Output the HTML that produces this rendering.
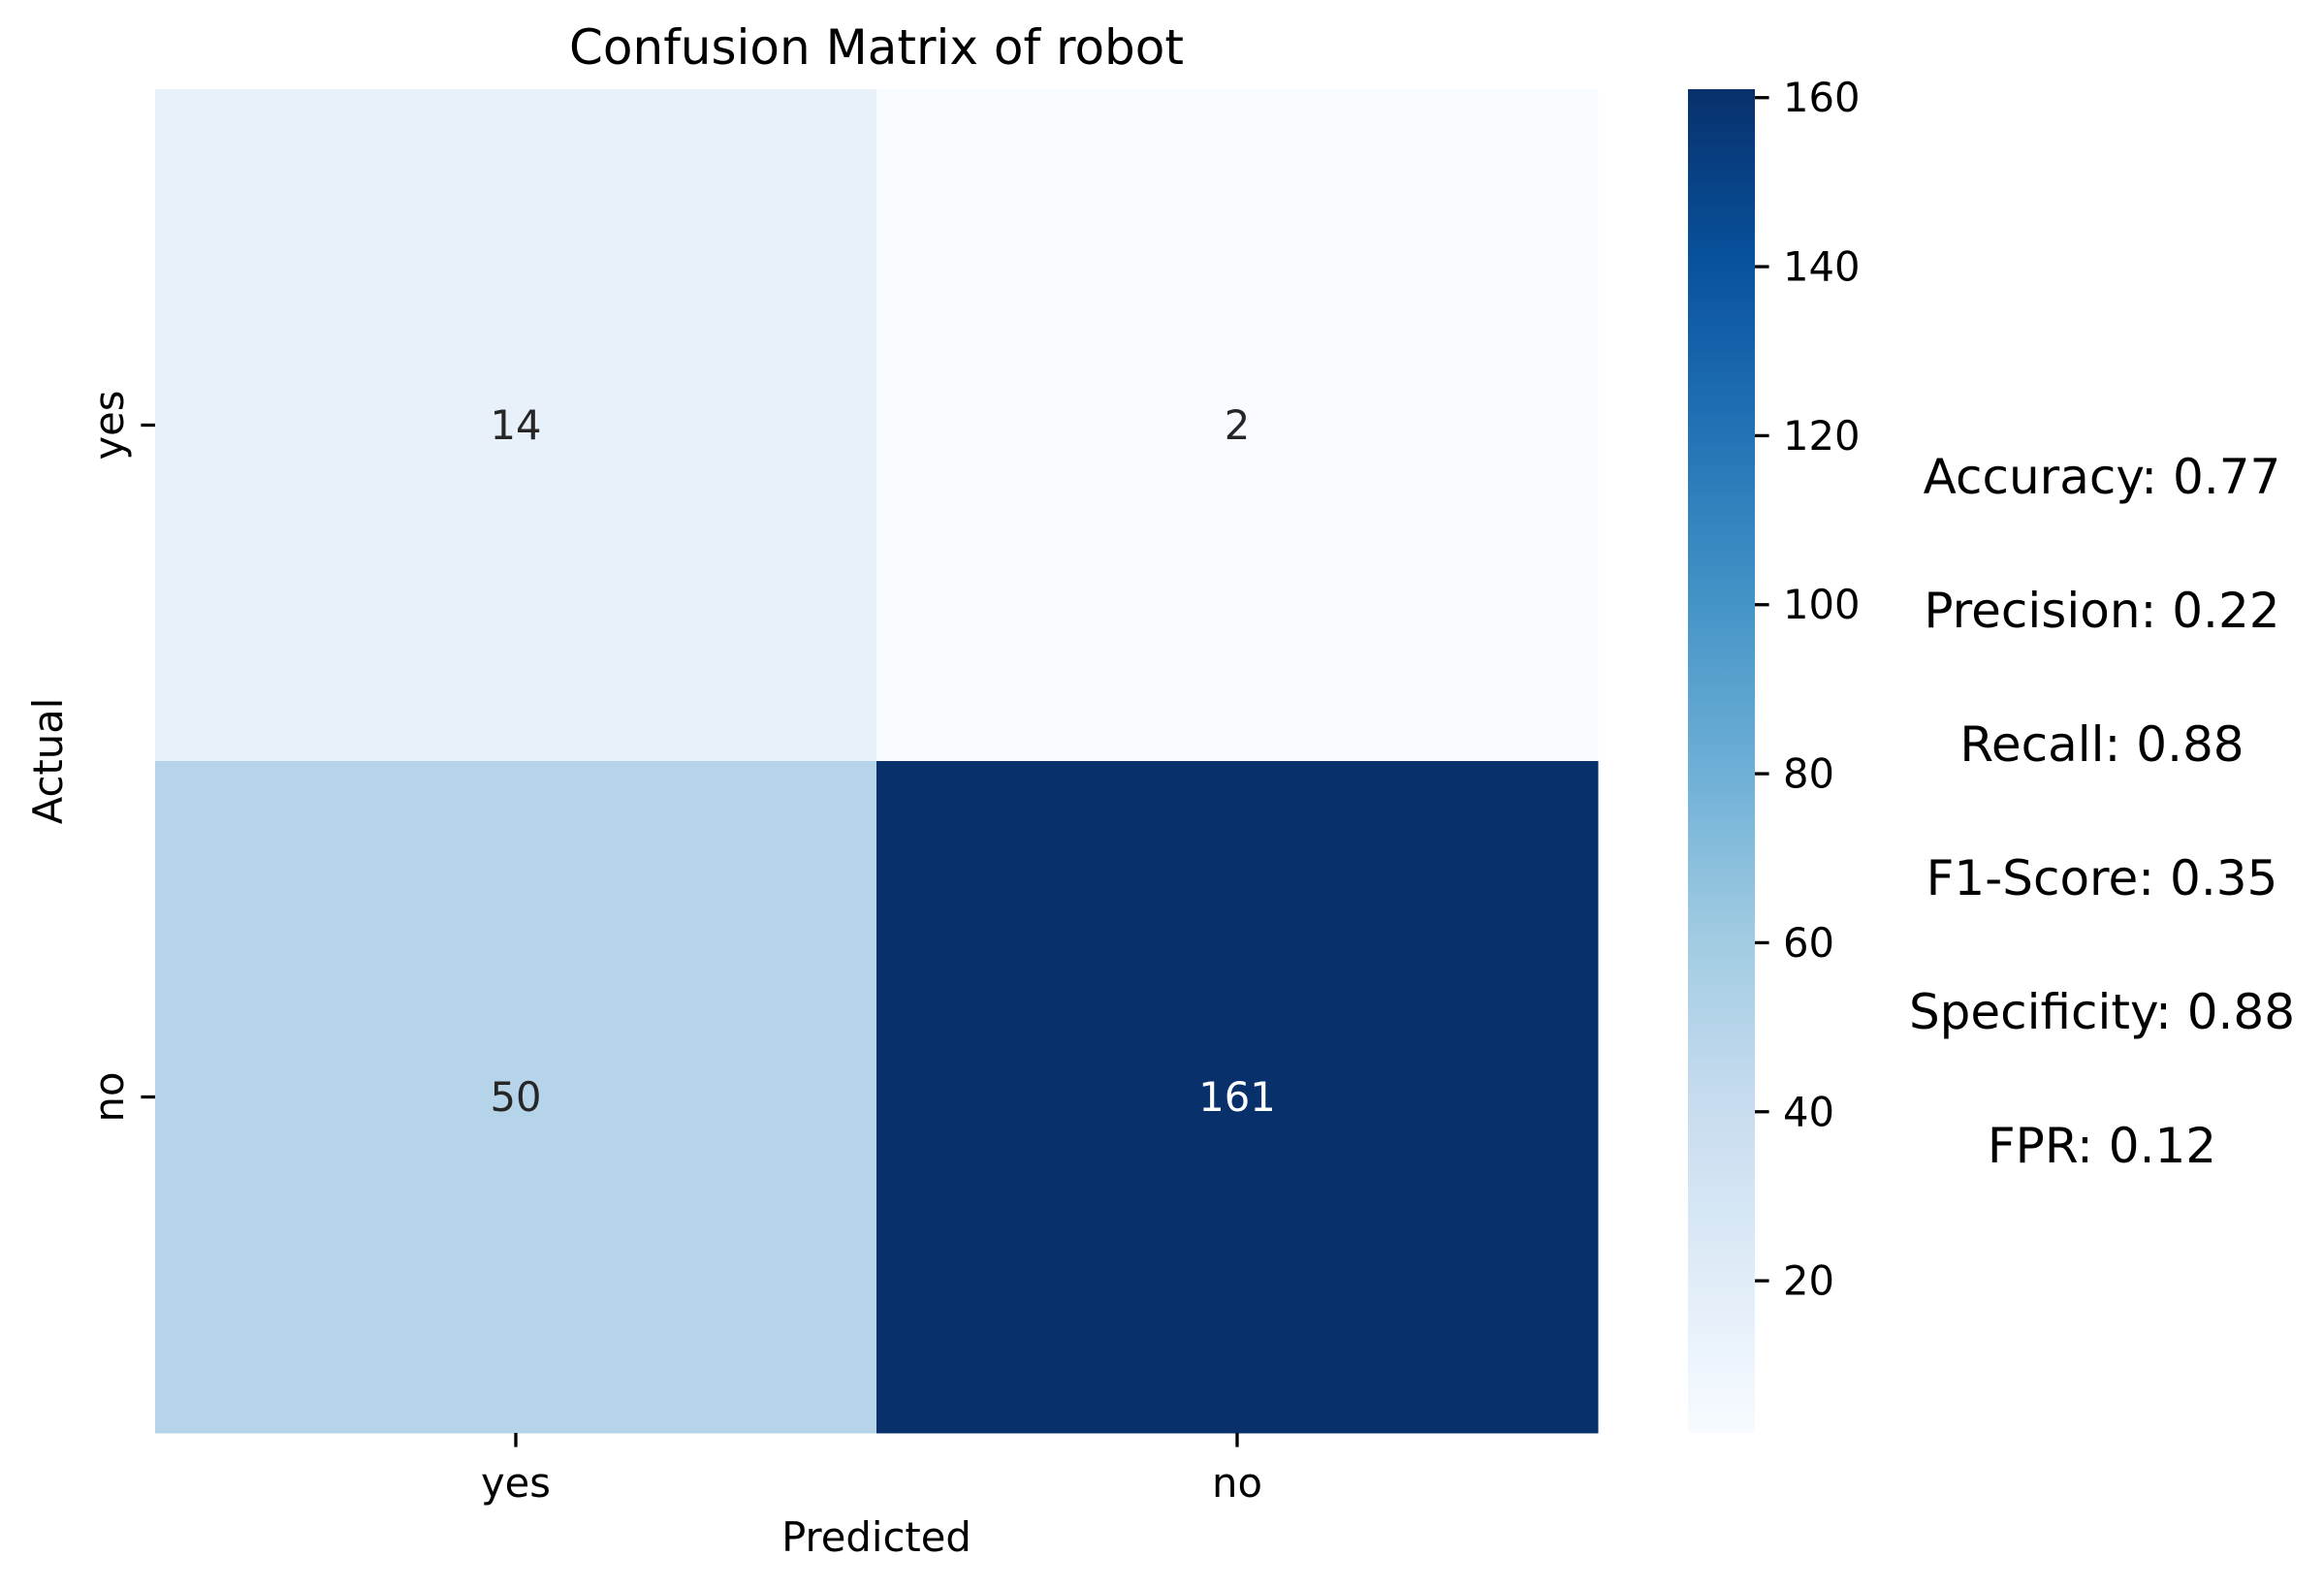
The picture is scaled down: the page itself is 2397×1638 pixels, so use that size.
<!DOCTYPE html>
<html><head><meta charset="utf-8"><style>
html,body{margin:0;padding:0;background:#fff;}
svg{display:block;font-family:"DejaVu Sans","Liberation Sans",sans-serif;}
</style></head><body>
<svg id="chart" width="2397" height="1638" viewBox="0 0 2397 1638" xmlns="http://www.w3.org/2000/svg">
<defs><linearGradient id="cbgrad" x1="0" y1="1" x2="0" y2="0"></linearGradient></defs>
<text x="904" y="66" font-size="50" text-anchor="middle" fill="#000">Confusion Matrix of robot</text>
<g id="cells"></g>
<g id="axes"></g>
<text x="904" y="1600" font-size="41.7" text-anchor="middle" fill="#000">Predicted</text>
<text transform="translate(64,785) rotate(-90)" font-size="41.7" text-anchor="middle" fill="#000">Actual</text>
<rect x="1741" y="92" width="69" height="1386" fill="url(#cbgrad)"/>
<g id="cbticks"></g>
<g id="metrics"></g>
</svg>
<script>
const rowLabels = ["yes","no"];
const colLabels = ["yes","no"];
const matrix = [[14,2],[50,161]];
const cbTicks = [20,40,60,80,100,120,140,160];
const metricLines = ["Accuracy: 0.77","Precision: 0.22","Recall: 0.88","F1-Score: 0.35","Specificity: 0.88","FPR: 0.12"];

const NS="http://www.w3.org/2000/svg";
const L=160,R=1648,T=92,B=1478;
const CBT=92,CBB=1478,CBX=1810;
const flat=matrix.flat();
const vmin=Math.min(...flat), vmax=Math.max(...flat);
const stops=["#f7fbff","#deebf7","#c6dbef","#9ecae1","#6baed6","#4292c6","#2171b5","#08519c","#08306b"];
function hex(h){return [1,3,5].map(i=>parseInt(h.substr(i,2),16));}
function blues(t){t=Math.max(0,Math.min(1,t));const p=t*8,i=Math.min(7,Math.floor(p)),f=p-i;
 const a=hex(stops[i]),b=hex(stops[i+1]);return "rgb("+a.map((v,k)=>Math.round(v+(b[k]-v)*f)).join(",")+")";}
function mk(tag,attrs,parent){const e=document.createElementNS(NS,tag);for(const k in attrs)e.setAttribute(k,attrs[k]);parent.appendChild(e);return e;}
const xs=i=>L+(R-L)*i/colLabels.length;
const ys=j=>T+(B-T)*j/rowLabels.length;
const cby=v=>CBB-(v-vmin)/(vmax-vmin)*(CBB-CBT);

const grad=document.getElementById('cbgrad');
for(let k=0;k<=16;k++){mk('stop',{offset:(k/16),'stop-color':blues(k/16)},grad);}

const cells=document.getElementById('cells');
matrix.forEach((row,j)=>row.forEach((v,i)=>{
 const t=(v-vmin)/(vmax-vmin);
 const r=mk('rect',{x:xs(i),y:ys(j),width:xs(i+1)-xs(i)+0.5,height:ys(j+1)-ys(j)+0.5,fill:blues(t)},cells);
 
 
 const tx=mk('text',{x:(xs(i)+xs(i+1))/2,y:(ys(j)+ys(j+1))/2,'font-size':41.7,'text-anchor':'middle','dominant-baseline':'central',fill:t>0.6?'#ffffff':'#262626'},cells);
 tx.textContent=v;
 
 
}));

const axes=document.getElementById('axes');
colLabels.forEach((c,i)=>{
 const cx=(xs(i)+xs(i+1))/2;
 mk('line',{x1:cx,x2:cx,y1:B,y2:B+14.6,stroke:'#000','stroke-width':3.3},axes);
 const t=mk('text',{x:cx,y:B+66,'font-size':41.7,'text-anchor':'middle',fill:'#000'},axes);
 t.textContent=c;
 
 
});
rowLabels.forEach((r,j)=>{
 const cy=(ys(j)+ys(j+1))/2;
 mk('line',{x1:L-14.6,x2:L,y1:cy,y2:cy,stroke:'#000','stroke-width':3.3},axes);
 const t=mk('text',{transform:'translate(127,'+cy+') rotate(-90)','font-size':41.7,'text-anchor':'middle',fill:'#000'},axes);
 t.textContent=r;
 
 
});

const cbg=document.getElementById('cbticks');
cbTicks.forEach(v=>{
 const y=cby(v);
 mk('line',{x1:CBX,x2:CBX+14.6,y1:y,y2:y,stroke:'#000','stroke-width':3.3},cbg);
 const t=mk('text',{x:CBX+29,y:y,'font-size':41.7,'dominant-baseline':'central',fill:'#000'},cbg);
 t.textContent=v;
 
 
});

const mg=document.getElementById('metrics');
metricLines.forEach((s,k)=>{
 const t=mk('text',{x:2168,y:509+k*138,'font-size':50,'text-anchor':'middle',fill:'#000'},mg);
 t.textContent=s;
 
 
});
</script>
</body></html>
